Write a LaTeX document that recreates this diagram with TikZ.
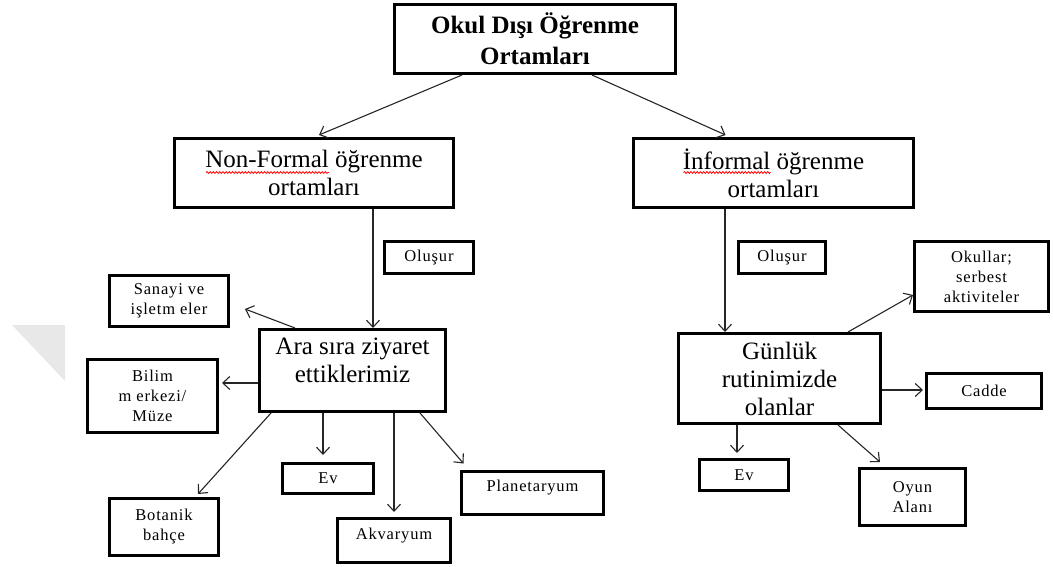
\documentclass[tikz,border=0pt]{standalone}
\usepackage{fontspec}
\setmainfont{Liberation Serif}
\usetikzlibrary{arrows.meta,decorations.pathmorphing}

\begin{document}
\begin{tikzpicture}[x=1pt,y=-1pt,
  box/.style={draw=black, line width=3pt, fill=white, align=center, inner sep=0pt},
  titletext/.style={font=\fontsize{25}{31}\selectfont\bfseries},
  bigtext/.style={font=\fontsize{25}{28}\selectfont},
  smalltext/.style={font=\fontsize{16.5}{20}\selectfont\addfontfeatures{LetterSpace=5}},
  link/.style={draw=black!85, line width=1.1pt, -{Straight Barb[length=7pt,width=13pt]}},
  spellmark/.style={draw=red, line width=0.8pt,
    decorate, decoration={snake, amplitude=0.9pt, segment length=3.2pt}},
]
\useasboundingbox (0,0) rectangle (1053,567);

% faint corner mark at the left edge
\fill[black!9] (12,325) -- (65,325) -- (65,381) -- cycle;

% top level
\node[box, titletext, minimum width=281, minimum height=69] (top) at (535,39)
  {Okul Dışı Öğrenme\\Ortamları};

% second level
\node[box, bigtext, minimum width=279, minimum height=69] (nonformal) at (314,173)
  {Non-Formal öğrenme\\ortamları};
\node[box, bigtext, minimum width=280, minimum height=69] (informal) at (773.5,173)
  {İnformal öğrenme\\ortamları};
% spell-check underlines below "Non-Formal" and "İnformal"
\draw[spellmark] ([xshift=-108pt, yshift=0.5pt]nonformal.center) -- ++(123,0);
\draw[spellmark] ([xshift=-90pt, yshift=0.5pt]informal.center) -- ++(87,0);

% "Oluşur" tags
\node[box, smalltext, minimum width=89, minimum height=32] (olusurL) at (429,257.5) {Oluşur};
\node[box, smalltext, minimum width=87, minimum height=32] (olusurR) at (782,257.5) {Oluşur};

% left branch
\node[box, bigtext, minimum width=186, minimum height=82] (ara) at (352.5,370.5)
  {Ara sıra ziyaret\\ettiklerimiz\\[-8pt]\mbox{}};
\node[box, smalltext, minimum width=119, minimum height=51] (sanayi) at (169,301)
  {Sanayi ve\\işletm eler};
\node[box, smalltext, minimum width=130, minimum height=73] (bilim) at (152.5,396)
  {Bilim\\m erkezi/\\Müze};
\node[box, smalltext, minimum width=91, minimum height=30] (evL) at (328,478.5) {Ev};
\node[box, smalltext, minimum width=109, minimum height=57] (botanik) at (164,527)
  {Botanik\\bahçe};
\node[box, smalltext, minimum width=113, minimum height=44] (akvaryum) at (394,540.5)
  {Akvaryum\\[-6pt]\mbox{}};
\node[box, smalltext, minimum width=142, minimum height=43] (planet) at (532.5,493)
  {Planetaryum\\[-6pt]\mbox{}};

% right branch
\node[box, bigtext, minimum width=202, minimum height=90] (gunluk) at (779.5,378.5)
  {Günlük\\rutinimizde\\olanlar};
\node[box, smalltext, minimum width=134, minimum height=70] (okullar) at (981.5,276.5)
  {Okullar;\\serbest\\aktiviteler};
\node[box, smalltext, minimum width=115, minimum height=35] (cadde) at (984,391) {Cadde};
\node[box, smalltext, minimum width=89, minimum height=31] (evR) at (744,475) {Ev};
\node[box, smalltext, minimum width=106, minimum height=57] (oyun) at (912.5,497)
  {Oyun\\Alanı};

% connectors
\draw[link] ([xshift=-73pt]top.south) -- ([xshift=5pt,yshift=2pt]nonformal.north);
\draw[link] ([xshift=57pt]top.south) -- ([xshift=-48pt,yshift=2pt]informal.north);

\draw[link] ([xshift=59pt]nonformal.south) -- ([xshift=59pt]nonformal.south |- ara.north);
\draw[link] ([xshift=-48.5pt]informal.south) -- ([xshift=-48.5pt]informal.south |- gunluk.north);

\draw[link] ([xshift=37pt]ara.north west) -- ([xshift=15pt,yshift=-8pt]sanayi.east);
\draw[link, shorten >=3pt] ([yshift=-12.5pt]ara.west) -- ([yshift=-12.5pt]ara.west -| bilim.east);
\draw[link] ([xshift=13pt]ara.south west) -- ([xshift=34pt,yshift=3pt]botanik.north);
\draw[link, shorten >=7pt] ([xshift=-29.5pt]ara.south) -- ([xshift=-29.5pt]ara.south |- evL.north);
\draw[link, shorten >=5pt] ([xshift=41.5pt]ara.south) -- ([xshift=41.5pt]ara.south |- akvaryum.north);
\draw[link] ([xshift=67.5pt]ara.south) -- ([xshift=3.5pt,yshift=6.5pt]planet.north west);

\draw[link] ([xshift=-34pt]gunluk.north east) -- ([yshift=-18.5pt]okullar.west);
\draw[link, shorten >=2pt] ([yshift=-11.5pt]gunluk.east) -- ([yshift=-11.5pt]gunluk.east -| cadde.west);
\draw[link, shorten >=5pt] ([xshift=-42.5pt]gunluk.south) -- ([xshift=-42.5pt]gunluk.south |- evR.north);
\draw[link] ([xshift=58.5pt]gunluk.south) -- ([xshift=-32.5pt,yshift=5pt]oyun.north);
\end{tikzpicture}
\end{document}
